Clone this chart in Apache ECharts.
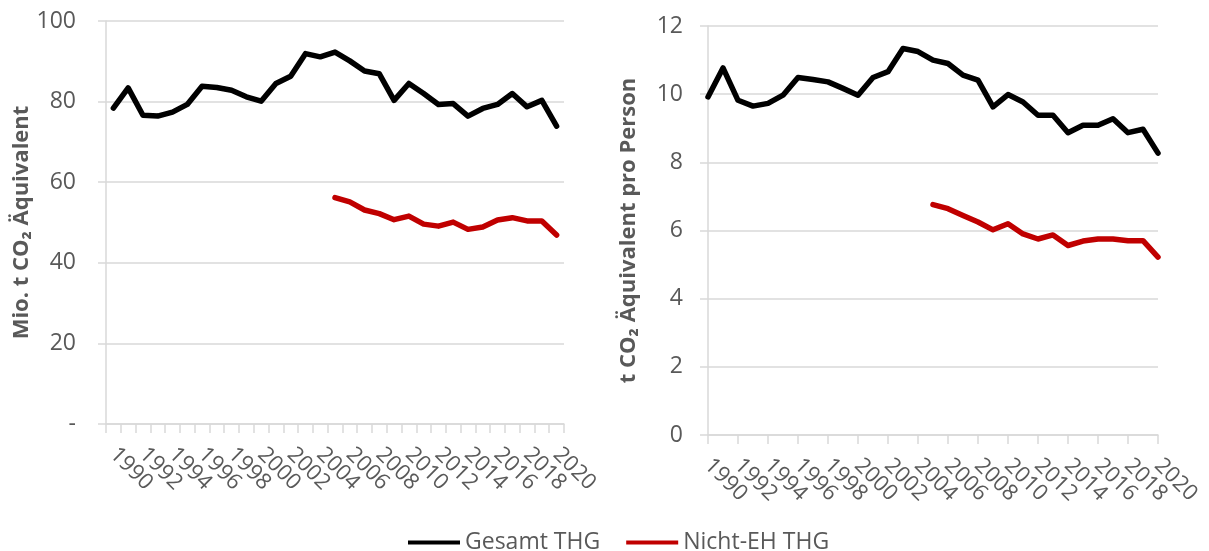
<!DOCTYPE html>
<html>
<head>
<meta charset="utf-8">
<script src="https://cdn.jsdelivr.net/npm/echarts@6/dist/echarts.min.js"></script>
<style>
html,body{margin:0;padding:0;background:#fff;}
#c{width:1209px;height:551px;}
</style>
</head>
<body>
<div id="c"></div>
<script>
const years = ['1990','1991','1992','1993','1994','1995','1996','1997','1998','1999','2000','2001','2002','2003','2004','2005','2006','2007','2008','2009','2010','2011','2012','2013','2014','2015','2016','2017','2018','2019','2020'];
// Left: Mio. t CO2 equivalent
const totalMio = [78.4,83.4,76.6,76.4,77.4,79.3,83.8,83.5,82.8,81.2,80.1,84.5,86.3,91.9,91.1,92.3,90.1,87.6,86.9,80.3,84.5,82.0,79.3,79.5,76.4,78.3,79.3,82.0,78.7,80.3,73.9];
const nonEtsMio = [null,null,null,null,null,null,null,null,null,null,null,null,null,null,null,56.2,55.1,53.1,52.2,50.7,51.6,49.6,49.1,50.1,48.3,48.9,50.6,51.2,50.4,50.4,46.9];
// Right: t CO2 equivalent per person
const totalPerCap = [9.92,10.77,9.82,9.65,9.73,9.97,10.49,10.43,10.36,10.17,9.97,10.49,10.66,11.34,11.25,11.0,10.9,10.56,10.41,9.63,9.99,9.77,9.38,9.38,8.87,9.09,9.09,9.28,8.87,8.97,8.27];
const nonEtsPerCap = [null,null,null,null,null,null,null,null,null,null,null,null,null,null,null,6.76,6.64,6.44,6.25,6.02,6.2,5.9,5.75,5.87,5.56,5.69,5.75,5.75,5.7,5.7,5.22];
// x tick labels shown (every second year)
const tickYears = ['1990','1992','1994','1996','1998','2000','2002','2004','2006','2008','2010','2012','2014','2016','2018','2020'];
const seriesNames = ['Gesamt THG','Nicht-EH THG'];
const leftTitle = 'Mio. t CO\u2082 \u00C4quivalent';
const rightTitle = 't CO\u2082 \u00C4quivalent pro Person';

const FONT = '"Open Sans", sans-serif';
const GREY = '#595959';
const GRID = '#D9D9D9';

const chart = echarts.init(document.getElementById('c'), null, {renderer:'canvas'});

function xAxis(gridIndex, boundaryGap, tickInterval) {
  return {
    type:'category', gridIndex, data: years, boundaryGap,
    axisLine:{show:true, lineStyle:{color:GRID, width:1.5}},
    axisTick:{show:true, interval:tickInterval, length:9, lineStyle:{color:GRID, width:1.5}},
    axisLabel:{interval:0, rotate:-45, color:GREY, fontFamily:FONT, fontSize:22, margin:27,
      showMinLabel:true, showMaxLabel:true, hideOverlap:false,
      formatter: v => tickYears.includes(v) ? v : ''},
    splitLine:{show:false}
  };
}
function yAxis(gridIndex, max, interval, name, fmt, gap, lblMargin) {
  return {
    type:'value', gridIndex, min:0, max, interval,
    name, nameLocation:'middle', nameGap:gap,
    nameTextStyle:{color:GREY, fontFamily:FONT, fontSize:22, fontWeight:'bold'},
    axisLine:{show:true, lineStyle:{color:GRID, width:1.5}},
    axisTick:{show:true, length:8, lineStyle:{color:GRID, width:1.5}},
    axisLabel:{color:GREY, fontFamily:FONT, fontSize:23, margin:lblMargin, formatter: fmt},
    splitLine:{show:true, lineStyle:{color:GRID, width:1.5}}
  };
}
function line(name, data, xi, color) {
  return {
    name, type:'line', xAxisIndex:xi, yAxisIndex:xi, data,
    symbol:'none', connectNulls:false,
    lineStyle:{color, width:5.5, cap:'round', join:'round'},
    itemStyle:{color}
  };
}

chart.setOption({
  animation:false,
  backgroundColor:'#fff',
  textStyle:{fontFamily:FONT},
  grid:[
    {left:106, right:645, top:21, bottom:127},
    {left:708, right:51, top:26, bottom:116}
  ],
  xAxis:[xAxis(0, true, 0), xAxis(1, false, 1)],
  yAxis:[
    yAxis(0, 100, 20, leftTitle, v => v === 0 ? '-' : String(v), 70, 30),
    yAxis(1, 12, 2, rightTitle, v => String(v), 68, 25)
  ],
  legend:{
    data:seriesNames, left:403, top:526, icon:'rect',
    itemWidth:52, itemHeight:4, itemGap:26,
    textStyle:{color:GREY, fontFamily:FONT, fontSize:23}
  },
  series:[
    line(seriesNames[0], totalMio, 0, '#000000'),
    line(seriesNames[1], nonEtsMio, 0, '#C00000'),
    line(seriesNames[0], totalPerCap, 1, '#000000'),
    line(seriesNames[1], nonEtsPerCap, 1, '#C00000')
  ]
});
</script>
</body>
</html>
